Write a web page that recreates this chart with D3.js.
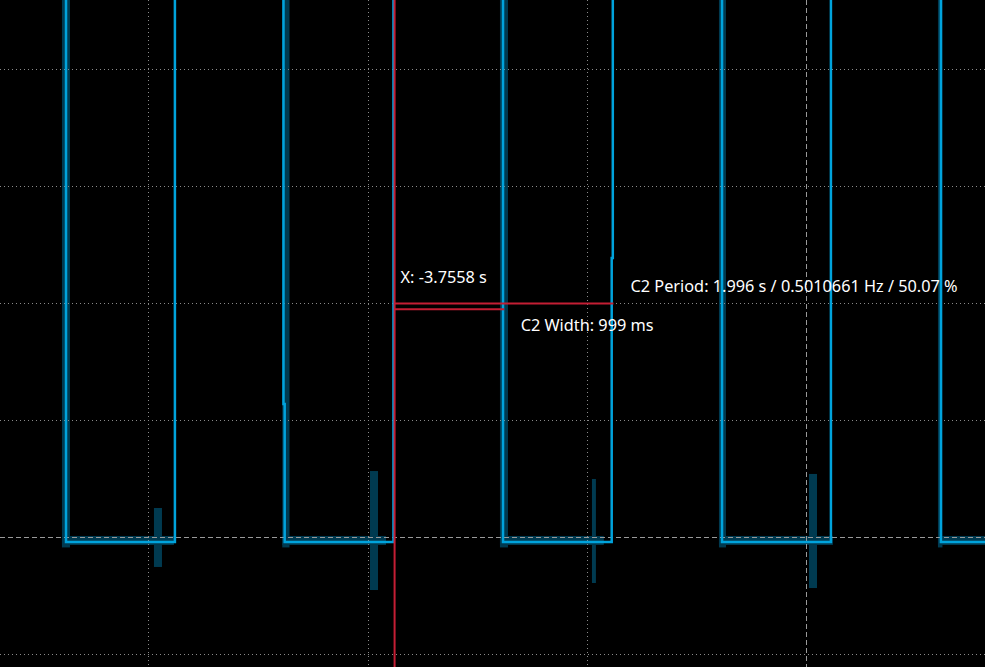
<!DOCTYPE html>
<html><head><meta charset="utf-8">
<script src="https://cdn.jsdelivr.net/npm/d3@7"></script>
<style>
html,body{margin:0;padding:0;background:#000;overflow:hidden}
svg{display:block}
text{font-family:"Noto Sans","Open Sans",sans-serif;fill:#fff}
</style></head>
<body>
<script>
// ---- data (seconds / volts) ----
const timeDomain = [-7.354, 1.628];
const voltDomain = [4.594, -1.107];
const timeTicks = [-6, -4, -2, 0];
const voltTicks = [4, 3, 2, 1, 0, -1];

// trace C2 (time, volts)
const waveT = [-7.6, -6.752, -6.752, -5.759, -5.759, -4.769, -4.769, -4.758, -4.758, -3.766, -3.766,
               -2.767, -2.767, -1.776, -1.776, -1.766, -1.766, -0.770, -0.770, 0.223, 0.223, 1.226, 1.226, 1.8];
const waveV = [5, 5, -0.038, -0.038, 5, 5, 1.141, 1.141, -0.038, -0.038, 5,
               5, -0.038, -0.038, 2.389, 2.389, 5, 5, -0.038, -0.038, 5, 5, -0.038, -0.038];

// persistence: falling-edge bands [t0, t1] from top down to persistBottom
const edgeBandT0 = [-6.789, -4.780, -2.795, -0.798, 1.199];
const edgeBandT1 = [-6.716, -4.714, -2.722, -0.734, 1.240];
const persistBottom = -0.085;
// persistence: low-level bands [t0, t1], between persistLow and persistHigh
const lowBandT0 = [-6.789, -4.780, -2.795, -0.798, 1.199];
const lowBandT1 = [-5.768, -3.834, -1.848, 0.241, 1.8];
const persistHigh = 0.013, persistLow = -0.064;
// persistence: noise bars
const noiseT0 = [-5.950, -3.980, -1.956, 0.023];
const noiseT1 = [-5.877, -3.907, -1.920, 0.096];
const noiseVTop = [0.252, 0.568, 0.500, 0.543];
const noiseVBot = [-0.252, -0.449, -0.389, -0.432];

// cursors / measurements
const cursorX = -3.7558;
const periodS = 1.996, freqHz = 0.5010661, dutyPct = 50.07, widthMs = 999;
const periodLevel = 2.0, widthLevel = 1.95;

// ---- drawing ----
const W = 985, H = 667;
const svg = d3.select("body").append("svg").attr("width", W).attr("height", H);
svg.append("rect").attr("width", W).attr("height", H).attr("fill", "#000");

const x = d3.scaleLinear().domain(timeDomain).range([0, W]);
const y = d3.scaleLinear().domain(voltDomain).range([0, H]);

const dark = "#003a50", bright = "#00a3dc", red = "#c41e34";

// persistence layer
const pers = svg.append("g").attr("fill", dark);
pers.selectAll("rect.edge").data(edgeBandT0).join("rect").attr("class", "edge")
  .attr("x", (d) => x(d)).attr("width", (d, i) => x(edgeBandT1[i]) - x(d))
  .attr("y", y(voltDomain[0])).attr("height", y(persistBottom) - y(voltDomain[0]));
pers.selectAll("rect.low").data(lowBandT0).join("rect").attr("class", "low")
  .attr("x", (d) => x(d)).attr("width", (d, i) => x(lowBandT1[i]) - x(d))
  .attr("y", y(persistHigh)).attr("height", y(persistLow) - y(persistHigh));
pers.selectAll("rect.noise").data(noiseT0).join("rect").attr("class", "noise")
  .attr("x", (d) => x(d)).attr("width", (d, i) => x(noiseT1[i]) - x(d))
  .attr("y", (d, i) => y(noiseVTop[i])).attr("height", (d, i) => y(noiseVBot[i]) - y(noiseVTop[i]));

// grid via axes
const gx = svg.append("g").attr("transform", `translate(0,${H})`)
  .call(d3.axisBottom(x).tickValues(timeTicks).tickSize(H).tickSizeOuter(0).tickFormat(""));
gx.select(".domain").remove();
gx.selectAll(".tick line").attr("y1", -H).attr("y2", 0)
  .attr("stroke", (d) => d === 0 ? "#9a9a9a" : "#8a8a8a")
  .attr("stroke-dasharray", (d) => d === 0 ? "5,3" : "1,3")
  .attr("shape-rendering", "crispEdges");
const gy = svg.append("g")
  .call(d3.axisLeft(y).tickValues(voltTicks).tickSize(0).tickSizeOuter(0).tickFormat(""));
gy.select(".domain").remove();
gy.selectAll(".tick line").attr("x1", 0).attr("x2", W)
  .attr("stroke", (d) => d === 0 ? "#9a9a9a" : "#8a8a8a")
  .attr("stroke-dasharray", (d) => d === 0 ? "5,3" : "1,3")
  .attr("shape-rendering", "crispEdges");

// bright trace
const line = d3.line().x((d) => x(d[0])).y((d) => y(d[1]));
svg.append("path").datum(waveT.map((t, i) => [t, waveV[i]]))
  .attr("d", line).attr("fill", "none").attr("stroke", bright)
  .attr("stroke-width", 2.5).attr("stroke-linejoin", "miter");

// cursors
const cx = x(cursorX);
svg.append("line").attr("x1", cx).attr("x2", cx).attr("y1", 0).attr("y2", H)
  .attr("stroke", red).attr("stroke-width", 2);
svg.append("line").attr("x1", cx).attr("x2", x(cursorX + periodS))
  .attr("y1", y(periodLevel)).attr("y2", y(periodLevel))
  .attr("stroke", red).attr("stroke-width", 2);
svg.append("line").attr("x1", cx).attr("x2", x(cursorX + widthMs / 1000))
  .attr("y1", y(widthLevel)).attr("y2", y(widthLevel))
  .attr("stroke", red).attr("stroke-width", 2);

// labels
const fs = "16.3px";
svg.append("text").attr("x", cx + 6).attr("y", y(periodLevel) - 20.5).attr("font-size", fs)
  .text(`X: ${cursorX} s`);
svg.append("text").attr("x", x(cursorX + periodS) + 17).attr("y", y(periodLevel) - 11.5).attr("font-size", fs)
  .text(`C2 Period: ${periodS} s / ${freqHz} Hz / ${dutyPct} %`);
svg.append("text").attr("x", x(cursorX + widthMs / 1000) + 16.5).attr("y", y(widthLevel) + 22).attr("font-size", fs)
  .text(`C2 Width: ${widthMs} ms`);
</script>
</body></html>
